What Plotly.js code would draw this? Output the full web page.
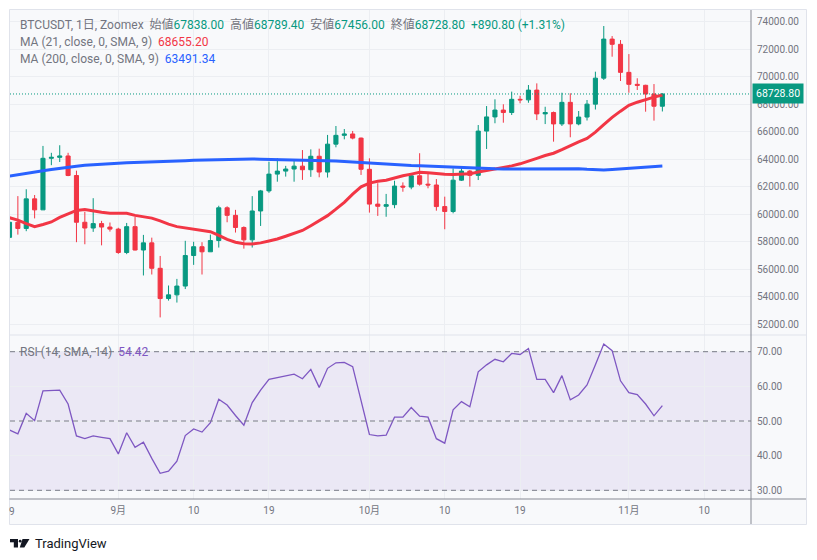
<!DOCTYPE html>
<html><head><meta charset="utf-8">
<script src="https://cdn.plot.ly/plotly-3.0.1.min.js"></script>
<style>html,body{margin:0;padding:0;background:#fff;overflow:hidden}</style>
</head><body><div id="chart" style="width:817px;height:560px"></div>
<script>
// ---- data (BTCUSDT daily, Zoomex) ----
const dates = ['2024-08-19','2024-08-20','2024-08-21','2024-08-22','2024-08-23','2024-08-24','2024-08-25','2024-08-26','2024-08-27','2024-08-28','2024-08-29','2024-08-30','2024-08-31',
'2024-09-01','2024-09-02','2024-09-03','2024-09-04','2024-09-05','2024-09-06','2024-09-07','2024-09-08','2024-09-09','2024-09-10','2024-09-11','2024-09-12','2024-09-13','2024-09-14','2024-09-15','2024-09-16','2024-09-17','2024-09-18','2024-09-19','2024-09-20','2024-09-21','2024-09-22','2024-09-23','2024-09-24','2024-09-25','2024-09-26','2024-09-27','2024-09-28','2024-09-29','2024-09-30',
'2024-10-01','2024-10-02','2024-10-03','2024-10-04','2024-10-05','2024-10-06','2024-10-07','2024-10-08','2024-10-09','2024-10-10','2024-10-11','2024-10-12','2024-10-13','2024-10-14','2024-10-15','2024-10-16','2024-10-17','2024-10-18','2024-10-19','2024-10-20','2024-10-21','2024-10-22','2024-10-23','2024-10-24','2024-10-25','2024-10-26','2024-10-27','2024-10-28','2024-10-29','2024-10-30','2024-10-31',
'2024-11-01','2024-11-02','2024-11-03','2024-11-04','2024-11-05'];
const opens = [58300,59400,58950,61100,60300,64050,64120,64220,62800,59400,58980,59300,59050,
58900,57200,59080,57380,57900,56050,53850,54120,54760,56980,57620,57250,58070,60450,59900,59020,58120,60220,61680,62900,63120,63270,63480,63220,64200,63050,65080,65720,65820,65520,
63250,60720,60560,60680,62030,61960,62780,62170,62110,60540,60180,62460,63120,62810,66030,67060,67560,67380,68340,68300,69010,67280,67380,66550,68120,66550,67050,67990,69880,72720,72340,
70300,69430,69360,68730,67838];
const highs = [59600,61300,61800,61380,64950,64450,65000,64450,63150,60150,61150,59500,59380,
59000,59350,59780,58480,58280,56950,54800,55280,58050,57980,57950,58500,60600,60560,60300,59100,61300,61750,63800,64050,63500,63930,64650,64700,64750,65750,66400,66180,66040,65560,
64050,62240,61460,62420,62300,62960,64420,62960,62540,61260,63320,63440,63200,66470,67850,68340,67980,68900,68600,69380,69500,67800,67450,68820,68780,67490,68290,70350,73670,72940,72650,
71630,69870,69400,69450,68789.4];
const lows = [57800,58500,58750,59680,60300,63550,63780,62750,57950,57800,58700,57720,58720,
57100,57080,57350,55530,55600,52480,53700,53560,54540,56300,55600,57250,57560,59400,58650,57480,57560,59130,61540,62350,62720,62350,62480,62700,62670,62650,64850,65430,65430,62840,
60100,59860,59800,60420,61620,61800,62060,61870,60240,58890,60050,62400,61990,62470,64730,66600,66640,67200,68050,68090,66830,66540,65260,66400,65580,66450,66800,67600,69750,71440,69670,
68820,69020,67440,66790,67456];
const closes = [59400,58950,61100,60300,64050,64120,64220,62800,59400,58980,59300,59050,58900,
57200,59080,57380,57900,56050,53850,54120,54760,56980,57620,57250,58070,60450,59900,59020,58120,60220,61680,62900,63120,63270,63480,63220,64200,63050,65080,65720,65820,65520,63250,
60720,60560,60680,62030,61960,62780,62170,62110,60540,60180,62460,63120,62810,66030,67060,67560,67380,68340,68300,69010,67280,67380,66550,68120,66550,67050,67990,69880,72720,72340,70300,
69430,69360,68730,67838,68728.8];
// MA(21) and MA(200) values
const ma21 = [59730,59560,59300,59080,59240,59420,59750,60030,60260,60330,60220,60120,60060,
60050,60050,59900,59780,59700,59500,59260,59080,58990,58930,58830,58710,58450,58150,57950,57830,57820,57900,58040,58180,58380,58600,58800,59150,59500,59880,60350,60850,61450,61980,
62250,62380,62450,62620,62780,62900,63030,63000,62920,62890,62880,62890,62920,63050,63150,63300,63400,63500,63650,63830,64050,64250,64420,64680,64980,65250,65500,65950,66500,67030,67480,
67900,68130,68330,68500,68655.20];
const ma200 = [62760,62870,62970,63070,63150,63240,63330,63420,63480,63540,63590,63630,63660,
63690,63720,63750,63780,63800,63820,63840,63860,63880,63900,63920,63940,63960,63980,63990,64000,64000,63990,63980,63970,63960,63950,63930,63910,63890,63870,63850,63820,63780,63720,
63680,63640,63600,63580,63560,63530,63510,63480,63450,63430,63400,63370,63340,63320,63300,63290,63280,63280,63280,63290,63300,63310,63320,63320,63310,63290,63250,63220,63200,63230,63280,
63330,63380,63420,63460,63491.34];
const rsi = [47.4,46.3,52.2,50.1,58.7,58.9,58.9,54.9,45.7,44.9,45.7,45.3,44.9,
40.5,46.6,42.4,43.9,39.2,34.9,35.5,38.4,45.8,47.7,46.8,49.5,56.3,54.6,51.6,48.8,55.3,58.9,62.0,62.5,62.8,63.5,62.2,64.9,59.7,65.2,66.8,66.9,65.7,56.0,
46.1,45.7,45.9,51.1,51.1,53.9,51.4,51.1,44.9,43.6,53.2,55.6,54.1,64.2,66.2,67.8,67.1,69.5,69.2,70.9,62.0,62.0,58.2,63.1,56.1,57.5,60.4,66.2,72.2,70.3,61.6,
58.2,57.6,54.9,51.5,54.42];
const tickDates = ['2024-09-01','2024-09-10','2024-09-19','2024-10-01','2024-10-10','2024-10-19','2024-11-01','2024-11-10'];
const tickLabels = ['9月','10','19','10月','10','19','11月','10'];
const priceTicks = [52000,54000,56000,58000,60000,62000,64000,66000,68000,70000,72000,74000];
const rsiTicks = [30,40,50,60,70];
const rsiLevels = [70,50,30];

// ---- layout helpers (pixel -> paper) ----
const L=10, R=751, T=10, B=499, W=R-L, H=B-T;
const fx = p => (p-L)/W, fy = p => (B-p)/H;
const GREEN='#089981', RED='#F23645', BLUE='#2962FF', PURPLE='#7E57C2', GRAY='#737580';
const FONT='Roboto, "Noto Sans CJK JP", sans-serif';
const sp='\u00a0\u00a0';
const n = closes.length-1;
const chg = closes[n]-closes[n-1];
const col = (c,t)=>'<span style="color:'+c+'">'+t+'</span>';
const sign = v => (v>=0?'+':'')+v.toFixed(2);

const traces = [
  {type:'candlestick', x:dates, open:opens, high:highs, low:lows, close:closes, xaxis:'x', yaxis:'y',
   increasing:{line:{color:GREEN,width:1}, fillcolor:GREEN},
   decreasing:{line:{color:RED,width:1}, fillcolor:RED},
   whiskerwidth:0, hoverinfo:'skip', showlegend:false},
  {type:'scatter', mode:'lines', x:dates, y:ma21, xaxis:'x', yaxis:'y', line:{color:RED,width:3}, hoverinfo:'skip', showlegend:false},
  {type:'scatter', mode:'lines', x:dates, y:ma200, xaxis:'x', yaxis:'y', line:{color:BLUE,width:3}, hoverinfo:'skip', showlegend:false},
  {type:'scatter', mode:'lines', x:dates, y:rsi, xaxis:'x', yaxis:'y2', line:{color:PURPLE,width:1.3}, hoverinfo:'skip', showlegend:false}
];

const shapes = [
  {type:'rect', xref:'paper', yref:'paper', x0:fx(9.5), x1:fx(806.5), y0:fy(524.5), y1:fy(9.5), fillcolor:'#f8f9fb', line:{color:'#e0e3eb',width:1}, layer:'below'},
  {type:'rect', xref:'paper', yref:'y2', x0:0, x1:1, y0:30, y1:70, fillcolor:'rgba(126,87,194,0.1)', line:{width:0}, layer:'below'},
  {type:'line', xref:'paper', yref:'paper', x0:fx(9.5), x1:fx(806), y0:fy(335), y1:fy(335), line:{color:'#e0e3eb',width:1}},
  {type:'line', xref:'paper', yref:'paper', x0:1, x1:1, y0:fy(524), y1:fy(10), line:{color:'#868993',width:1}},
  {type:'line', xref:'paper', yref:'paper', x0:fx(9.5), x1:fx(806), y0:0, y1:0, line:{color:'#868993',width:1}},
  {type:'line', xref:'paper', yref:'y', x0:0, x1:1, y0:closes[n], y1:closes[n], line:{color:GREEN,width:1,dash:'1px,2px'}}
];
rsiLevels.forEach(v=>shapes.push({type:'line', xref:'paper', yref:'y2', x0:0, x1:1, y0:v, y1:v, line:{color:'#787b86',width:1,dash:'5px,4px'}}));
// TradingView logo
const logo = [[10,539,18,542.3],[13.8,539,18,547.5]];
logo.forEach(r=>shapes.push({type:'rect', xref:'paper', yref:'paper', x0:fx(r[0]), x1:fx(r[2]), y0:fy(r[3]), y1:fy(r[1]), fillcolor:'#131722', line:{width:0}}));
shapes.push({type:'circle', xref:'paper', yref:'paper', x0:fx(18.8), x1:fx(21.6), y0:fy(542.6), y1:fy(539.8), fillcolor:'#131722', line:{width:0}});
shapes.push({type:'path', xref:'paper', yref:'paper', fillcolor:'#131722', line:{width:0},
  path:'M '+fx(22.5)+' '+fy(539)+' L '+fx(29.5)+' '+fy(539)+' L '+fx(24.3)+' '+fy(547.5)+' L '+fx(19.8)+' '+fy(547.5)+' Z'});

const annotations = [
  {xref:'paper', yref:'paper', x:fx(18), y:fy(24.5), xanchor:'left', yanchor:'middle', showarrow:false, font:{size:12,color:GRAY,family:FONT},
   text:'BTCUSDT, 1日, Zoomex'+sp+'始値'+col(GREEN,opens[n].toFixed(2))+sp+'高値'+col(GREEN,highs[n].toFixed(2))+sp+'安値'+col(GREEN,lows[n].toFixed(2))+sp+'終値'+col(GREEN,closes[n].toFixed(2))+sp+col(GREEN,sign(chg)+' ('+sign(chg/closes[n-1]*100)+'%)')},
  {xref:'paper', yref:'paper', x:fx(18), y:fy(42), xanchor:'left', yanchor:'middle', showarrow:false, font:{size:12,color:GRAY,family:FONT},
   text:'MA (21, close, 0, SMA, 9)'+sp+col(RED,ma21[n].toFixed(2))},
  {xref:'paper', yref:'paper', x:fx(18), y:fy(59.5), xanchor:'left', yanchor:'middle', showarrow:false, font:{size:12,color:GRAY,family:FONT},
   text:'MA (200, close, 0, SMA, 9)'+sp+col(BLUE,ma200[n].toFixed(2))},
  {xref:'paper', yref:'paper', x:fx(18), y:fy(351.5), xanchor:'left', yanchor:'middle', showarrow:false, font:{size:12,color:GRAY,family:FONT},
   text:'RSI (14, SMA, 14)'+sp+col(PURPLE,rsi[n].toFixed(2))},
  {xref:'paper', yref:'y', x:1, y:closes[n], xanchor:'left', yanchor:'middle', xshift:1, showarrow:false, bgcolor:GREEN, borderpad:3,
   font:{size:10.5,color:'#ffffff',family:FONT}, text:closes[n].toFixed(2)},
  {xref:'paper', yref:'paper', x:fx(11.5), y:fy(512), xanchor:'center', yanchor:'middle', showarrow:false, font:{size:10,color:GRAY,family:FONT}, text:'9'},
  {xref:'paper', yref:'paper', x:fx(33), y:fy(543), xanchor:'left', yanchor:'middle', showarrow:false, font:{size:13,color:'#131722',family:FONT}, text:'TradingView'}
];

const gridc = '#eceef2';
const layout = {
  width:817, height:560, margin:{l:L, r:817-R, t:T, b:560-B, pad:0},
  paper_bgcolor:'#ffffff', plot_bgcolor:'rgba(0,0,0,0)',
  font:{family:FONT, size:10, color:GRAY},
  showlegend:false, hovermode:false, dragmode:false,
  xaxis:{type:'date', anchor:'y2', range:['2024-08-19 01:26','2024-11-15 14:10'],
    tickmode:'array', tickvals:tickDates, ticktext:tickLabels, ticks:'', showgrid:true, gridcolor:gridc, gridwidth:1,
    zeroline:false, showline:false, rangeslider:{visible:false}, tickfont:{size:10,color:GRAY}, ticklabelstandoff:4},
  yaxis:{domain:[fy(335),1], anchor:'x', side:'right', range:[51200,74836], tickmode:'array', tickvals:priceTicks,
    ticktext:priceTicks.map(v=>v.toFixed(2)), ticks:'', showgrid:true, gridcolor:gridc, zeroline:false, showline:false,
    tickfont:{size:10,color:GRAY}, ticklabelstandoff:5},
  yaxis2:{domain:[0,fy(335)], anchor:'x', side:'right', range:[27.49,74.82], tickmode:'array', tickvals:rsiTicks,
    ticktext:rsiTicks.map(v=>v.toFixed(2)), ticks:'', showgrid:true, gridcolor:gridc, zeroline:false, showline:false,
    tickfont:{size:10,color:GRAY}, ticklabelstandoff:5},
  shapes:shapes, annotations:annotations
};
Plotly.newPlot('chart', traces, layout, {displayModeBar:false, staticPlot:true});
</script></body></html>
